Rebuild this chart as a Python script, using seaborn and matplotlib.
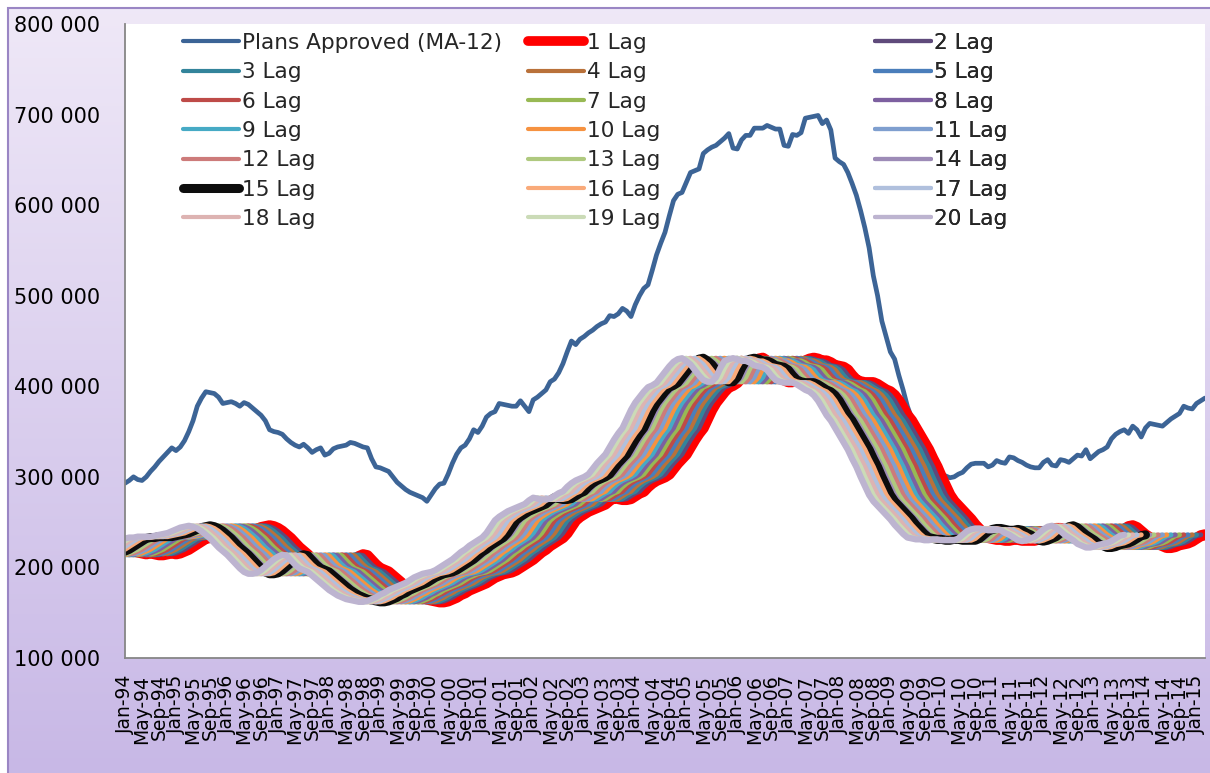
import numpy as np
import pandas as pd
import matplotlib
matplotlib.use('Agg')
import matplotlib.pyplot as plt
from matplotlib.lines import Line2D
from matplotlib.patches import Rectangle
import seaborn as sns

# ==========================================
# DATA (values in thousands, monthly from Jan-94)
# ==========================================

plans_approved_k = [
    293, 296, 300, 297, 296, 300, 306, 311, 317, 322, 327, 332,   # 1994
    329, 333, 340, 350, 362, 378, 387, 394, 393, 392, 388, 381,   # 1995
    382, 383, 381, 378, 382, 380, 376, 372, 368, 362, 352, 350,   # 1996
    349, 347, 342, 338, 335, 333, 336, 332, 327, 330, 332, 324,   # 1997
    326, 331, 333, 334, 335, 338, 337, 335, 333, 332, 320, 311,   # 1998
    310, 308, 306, 300, 294, 290, 286, 283, 281, 279, 277, 273,   # 1999
    280, 287, 292, 293, 303, 315, 325, 332, 335, 342, 352, 349,   # 2000
    356, 366, 370, 372, 381, 380, 379, 378, 378, 384, 378, 372,   # 2001
    385, 388, 392, 396, 405, 408, 415, 425, 438, 450, 446, 452,   # 2002
    455, 459, 462, 466, 469, 471, 478, 477, 480, 486, 483, 477,   # 2003
    490, 500, 508, 512, 528, 545, 558, 570, 588, 605, 612, 614,   # 2004
    625, 636, 638, 640, 657, 661, 664, 666, 670, 674, 679, 663,   # 2005
    662, 672, 677, 677, 685, 685, 685, 688, 686, 684, 684, 666,   # 2006
    665, 678, 677, 680, 696, 697, 698, 699, 690, 694, 683, 652,   # 2007
    648, 645, 636, 624, 611, 594, 575, 553, 522, 500, 472, 455,   # 2008
    438, 430, 412, 396, 378, 365, 350, 335, 322, 315, 310, 306,   # 2009
    303, 301, 299, 300, 303, 305, 310, 314, 315, 315, 315, 311,   # 2010
    313, 318, 316, 315, 322, 321, 318, 316, 313, 311, 310, 310,   # 2011
    316, 319, 313, 312, 319, 318, 316, 320, 324, 323, 330, 320,   # 2012
    324, 328, 330, 333, 342, 347, 350, 352, 348, 356, 352, 344,   # 2013
    354, 359, 358, 357, 356, 360, 364, 367, 370, 378, 376, 375,   # 2014
    381, 384, 387,                                                # 2015
]

# "1 Lag" series; the k-Lag series is the same series led by k-1 months
lag_base_k = [
    222, 220, 218, 217, 216, 215, 216, 215, 214, 214, 215, 216,
    215, 216, 218, 220, 223, 226, 229, 232, 233, 233, 234, 234,
    234, 234, 235, 236, 237, 238, 240, 242, 244, 245, 246, 245,
    243, 240, 236, 232, 227, 222, 218, 214, 209, 204, 199, 195,
    193, 193, 194, 197, 201, 205, 209, 212, 214, 213, 208, 203,
    199, 197, 195, 191, 187, 183, 179, 175, 172, 169, 167, 165,
    164, 163, 162, 162, 163, 165, 167, 170, 172, 175, 177, 179,
    181, 183, 186, 189, 191, 193, 194, 195, 197, 200, 203, 206,
    209, 213, 217, 220, 224, 227, 230, 233, 238, 245, 252, 256,
    259, 262, 264, 266, 268, 270, 274, 277, 276, 275, 275, 276,
    279, 282, 284, 289, 293, 296, 298, 300, 303, 309, 315, 320,
    325, 333, 341, 348, 354, 364, 374, 382, 388, 394, 399, 401,
    404, 410, 416, 422, 427, 430, 431, 428, 424, 418, 412, 407,
    405, 405, 410, 420, 428, 430, 431, 430, 428, 428, 426, 423,
    422, 421, 418, 412, 407, 405, 404, 404, 404, 402, 399, 396,
    394, 390, 384, 376, 368, 362, 354, 346, 338, 330, 320, 311,
    300, 290, 280, 273, 268, 263, 258, 253, 247, 242, 237, 233,
    232, 231, 231, 230, 230, 231, 231, 230, 230, 230, 230, 232,
    236, 240, 242, 243, 243, 242, 241, 241, 242, 241, 238, 236,
    233, 230, 229, 230, 232, 234, 238, 242, 245, 246, 244, 240,
    236, 233, 230, 226, 224, 222, 222, 223, 225, 226, 227, 229,
    232, 235, 236,
]

lag_numbers = list(range(1, 21))
lag_labels = [f'{k} Lag' for k in lag_numbers]
lag_colors = ['#FF0000', '#5F4A7B', '#33849B', '#B9713A', '#4A7EBB',
              '#BE4B48', '#98B954', '#7D60A0', '#46AAC5', '#F69240',
              '#7F9FCF', '#CD7B7A', '#AFC97F', '#9D8BB7', '#0D0D0D',
              '#F9AA7A', '#B0C0DD', '#DDB3B2', '#CBDBB7', '#BDB4D0']
lag_widths = [8.0 if k == 1 else 6.5 if k == 15 else 4.5 if k == 20 else 3.6
              for k in lag_numbers]

plans_label = 'Plans Approved (MA-12)'
plans_color = '#3C6496'

months = pd.date_range('1994-01-01', periods=len(plans_approved_k), freq='MS')
month_labels = [d.strftime('%b-%y') for d in months]

# ==========================================
# FIGURE
# ==========================================
sns.set_theme(style='white')
plt.rcParams['font.family'] = ['DejaVu Sans']

W, H = 1210, 773
fig = plt.figure(figsize=(W / 100, H / 100), dpi=100)
fig.patch.set_facecolor('white')

# chart-area gradient background
bg = fig.add_axes([8 / W, 0, 1 - 8 / W, 1 - 8 / H], zorder=-5)
grad = np.linspace(0, 1, 256).reshape(-1, 1)
top_c = np.array([0.937, 0.910, 0.969])
bot_c = np.array([0.784, 0.722, 0.902])
img = top_c[None, None, :] * (1 - grad[:, :, None]) + bot_c[None, None, :] * grad[:, :, None]
bg.imshow(img, aspect='auto', extent=[0, 1, 0, 1])
bg.set_axis_off()
fig.add_artist(Rectangle((8 / W, -0.01), 1.0, 1 - 8 / H + 0.01, transform=fig.transFigure,
                         fill=False, edgecolor='#9A86C4', linewidth=1.5, zorder=-4))

ax = fig.add_axes([125 / W, (H - 658) / H, (1205 - 125) / W, (658 - 24) / H])
ax.set_facecolor('white')

x_all = np.arange(len(plans_approved_k))
df_plans = pd.DataFrame({'month': x_all, 'value': np.array(plans_approved_k) * 1000})
sns.lineplot(data=df_plans, x='month', y='value', ax=ax, color=plans_color,
             linewidth=3.4, estimator=None, legend=False,
             solid_capstyle='round', solid_joinstyle='round')

base = np.array(lag_base_k) * 1000
for k, color, lw in zip(lag_numbers, lag_colors, lag_widths):
    vals = base[k - 1:]
    df_lag = pd.DataFrame({'month': np.arange(len(vals)), 'value': vals})
    sns.lineplot(data=df_lag, x='month', y='value', ax=ax, color=color,
                 linewidth=lw, estimator=None, legend=False,
                 solid_capstyle='round', solid_joinstyle='round')

ax.set_xlim(0, len(plans_approved_k) - 1)
ax.set_ylim(100000, 800000)
ax.set_xlabel('')
ax.set_ylabel('')

yt = np.arange(100000, 800001, 100000)
ax.set_yticks(yt)
ax.set_yticklabels([f'{v:,}'.replace(',', ' ') for v in yt], fontsize=15)

xt = x_all[::4]
ax.set_xticks(xt)
ax.set_xticklabels([month_labels[i] for i in xt], rotation=90, fontsize=13.5)

for s in ['top', 'right']:
    ax.spines[s].set_visible(False)
for s in ['left', 'bottom']:
    ax.spines[s].set_color('#868686')
    ax.spines[s].set_linewidth(1.3)
ax.tick_params(axis='both', which='major', direction='out', length=6,
               width=1.2, color='#868686', labelcolor='black')
ax.tick_params(axis='y', pad=12)
ax.tick_params(axis='x', pad=6)
ax.grid(False)

# ==========================================
# LEGEND: three columns laid out like Excel
# ==========================================
def handle(color, lw):
    return Line2D([0], [0], color=color, linewidth=lw, solid_capstyle='round')

entries = [(plans_label, plans_color, 3.0)]
for k, color in zip(lag_numbers, lag_colors):
    lw = 7.0 if k == 1 else 6.5 if k == 15 else 3.0
    entries.append((f'{k} Lag', color, lw))

col_x = [183, 528, 875]
fs = 15.6
for c in range(3):
    col_entries = entries[c::3]
    leg = ax.legend([handle(col, lw) for _, col, lw in col_entries],
                    [lab for lab, _, _ in col_entries],
                    loc='upper left', bbox_to_anchor=(col_x[c] / W, 1 - 33 / H),
                    bbox_transform=fig.transFigure, frameon=False, fontsize=fs,
                    borderpad=0, borderaxespad=0, handlelength=2.6,
                    handletextpad=0.12, labelspacing=0.43)
    ax.add_artist(leg)

fig.savefig('out.png', dpi=100)
